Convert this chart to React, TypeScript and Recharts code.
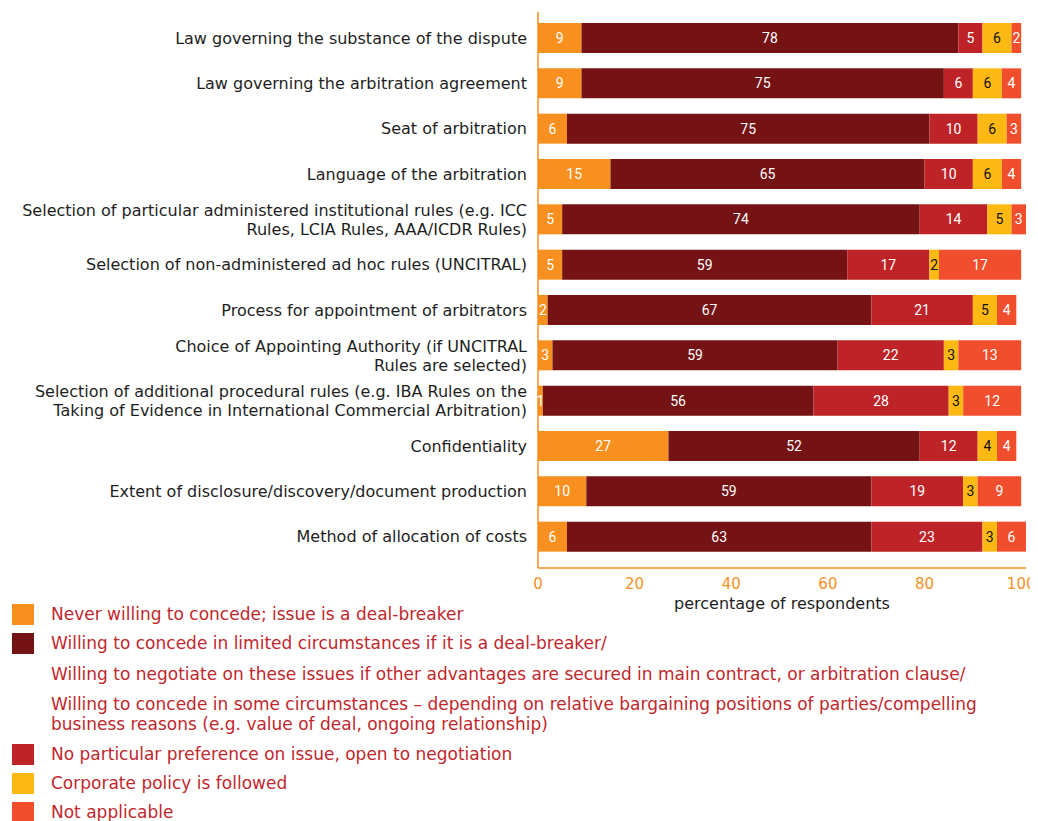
import React from 'react'
import { BarChart, Bar, XAxis, YAxis, LabelList, Label } from 'recharts'

const categories = [
  ['Law governing the substance of the dispute'],
  ['Law governing the arbitration agreement'],
  ['Seat of arbitration'],
  ['Language of the arbitration'],
  ['Selection of particular administered institutional rules (e.g. ICC', 'Rules, LCIA Rules, AAA/ICDR Rules)'],
  ['Selection of non-administered ad hoc rules (UNCITRAL)'],
  ['Process for appointment of arbitrators'],
  ['Choice of Appointing Authority (if UNCITRAL', 'Rules are selected)'],
  ['Selection of additional procedural rules (e.g. IBA Rules on the', 'Taking of Evidence in International Commercial Arbitration)'],
  ['Confidentiality'],
  ['Extent of disclosure/discovery/document production'],
  ['Method of allocation of costs'],
]

const neverConcede = [9, 9, 6, 15, 5, 5, 2, 3, 1, 27, 10, 6]
const limitedConcede = [78, 75, 75, 65, 74, 59, 67, 59, 56, 52, 59, 63]
const noPreference = [5, 6, 10, 10, 14, 17, 21, 22, 28, 12, 19, 23]
const corporatePolicy = [6, 6, 6, 6, 5, 2, 5, 3, 3, 4, 3, 3]
const notApplicable = [2, 4, 3, 4, 3, 17, 4, 13, 12, 4, 9, 6]

const xTicks = [0, 20, 40, 60, 80, 100]

const ORANGE = '#f7901e'
const DARK = '#741214'
const RED = '#be2328'
const YELLOW = '#fdb913'
const ORANGE_RED = '#f04e2c'

const data = categories.map((lines, i) => ({
  name: lines.join(' '),
  lines,
  never: neverConcede[i],
  limited: limitedConcede[i],
  noPref: noPreference[i],
  policy: corporatePolicy[i],
  na: notApplicable[i],
}))

const font = '"DejaVu Sans", "Noto Sans", sans-serif'
const numFont = 'Roboto, sans-serif'

// multi-line right aligned category labels
const CategoryTick = (props: any) => {
  const { x, y, index } = props
  const lines: string[] = data[index]?.lines || [props.payload.value]
  const lh = 19
  const start = -((lines.length - 1) * lh) / 2
  return (
    <text x={x} y={y} textAnchor="end" fill="#1e1e1e" fontSize={16} fontFamily={font}>
      {lines.map((l, k) => (
        <tspan key={k} x={x} dy={k === 0 ? start + 6 : lh}>{l}</tspan>
      ))}
    </text>
  )
}

const series = [
  { key: 'never', color: ORANGE, text: '#fff' },
  { key: 'limited', color: DARK, text: '#fff' },
  { key: 'noPref', color: RED, text: '#fff' },
  { key: 'policy', color: YELLOW, text: '#111' },
  { key: 'na', color: ORANGE_RED, text: '#fff' },
]

const legendItems = [
  { color: ORANGE, lines: ['Never willing to concede; issue is a deal-breaker'] },
  {
    color: DARK,
    lines: [
      'Willing to concede in limited circumstances if it is a deal-breaker/',
      'Willing to negotiate on these issues if other advantages are secured in main contract, or arbitration clause/',
      'Willing to concede in some circumstances – depending on relative bargaining positions of parties/compelling',
      'business reasons (e.g. value of deal, ongoing relationship)',
    ],
  },
  { color: RED, lines: ['No particular preference on issue, open to negotiation'] },
  { color: YELLOW, lines: ['Corporate policy is followed'] },
  { color: ORANGE_RED, lines: ['Not applicable'] },
]

const lineGaps = [0, 11, 10, 0]

export default function App() {
  return (
    <div style={{ position: 'relative', width: 1030, height: 813, fontFamily: font }}>
      <BarChart
        width={1030}
        height={620}
        data={data}
        layout="vertical"
        margin={{ top: 4, right: 12, bottom: 0, left: 0 }}
        barSize={30}
      >
        <XAxis
          type="number"
          domain={[0, 100]}
          ticks={xTicks}
          axisLine={{ stroke: ORANGE, strokeWidth: 1.5 }}
          tickLine={false}
          tick={{ fill: ORANGE, fontSize: 15, fontFamily: font }}
          tickMargin={4}
          height={60}
        >
          <Label value="percentage of respondents" position="insideTop" offset={30} fill="#1e1e1e" fontSize={16} fontFamily={font} />
        </XAxis>
        <YAxis
          type="category"
          dataKey="name"
          width={530}
          axisLine={{ stroke: ORANGE, strokeWidth: 1.5 }}
          tickLine={false}
          tickSize={0}
          tickMargin={11}
          interval={0}
          tick={<CategoryTick />}
          padding={{ top: 3, bottom: 9 }}
        />
        {series.map((s) => (
          <Bar key={s.key} dataKey={s.key} stackId="a" fill={s.color} isAnimationActive={false}>
            <LabelList dataKey={s.key} position="center" fill={s.text} fontSize={14} fontFamily={numFont} />
          </Bar>
        ))}
      </BarChart>
      <div style={{ position: 'absolute', left: 4, top: 596, width: 1026 }}>
        {legendItems.map((item, i) => (
          <div key={i} style={{ position: 'relative', paddingLeft: 39, marginBottom: i === 1 ? 10 : 9 }}>
            <div style={{ position: 'absolute', left: 0, top: 0, width: 22, height: 21, background: item.color }} />
            {item.lines.map((l, k) => (
              <div key={k} style={{ color: '#c1272d', fontSize: 17, lineHeight: '20px', whiteSpace: 'nowrap', marginTop: lineGaps[k] }}>{l}</div>
            ))}
          </div>
        ))}
      </div>
    </div>
  )
}
